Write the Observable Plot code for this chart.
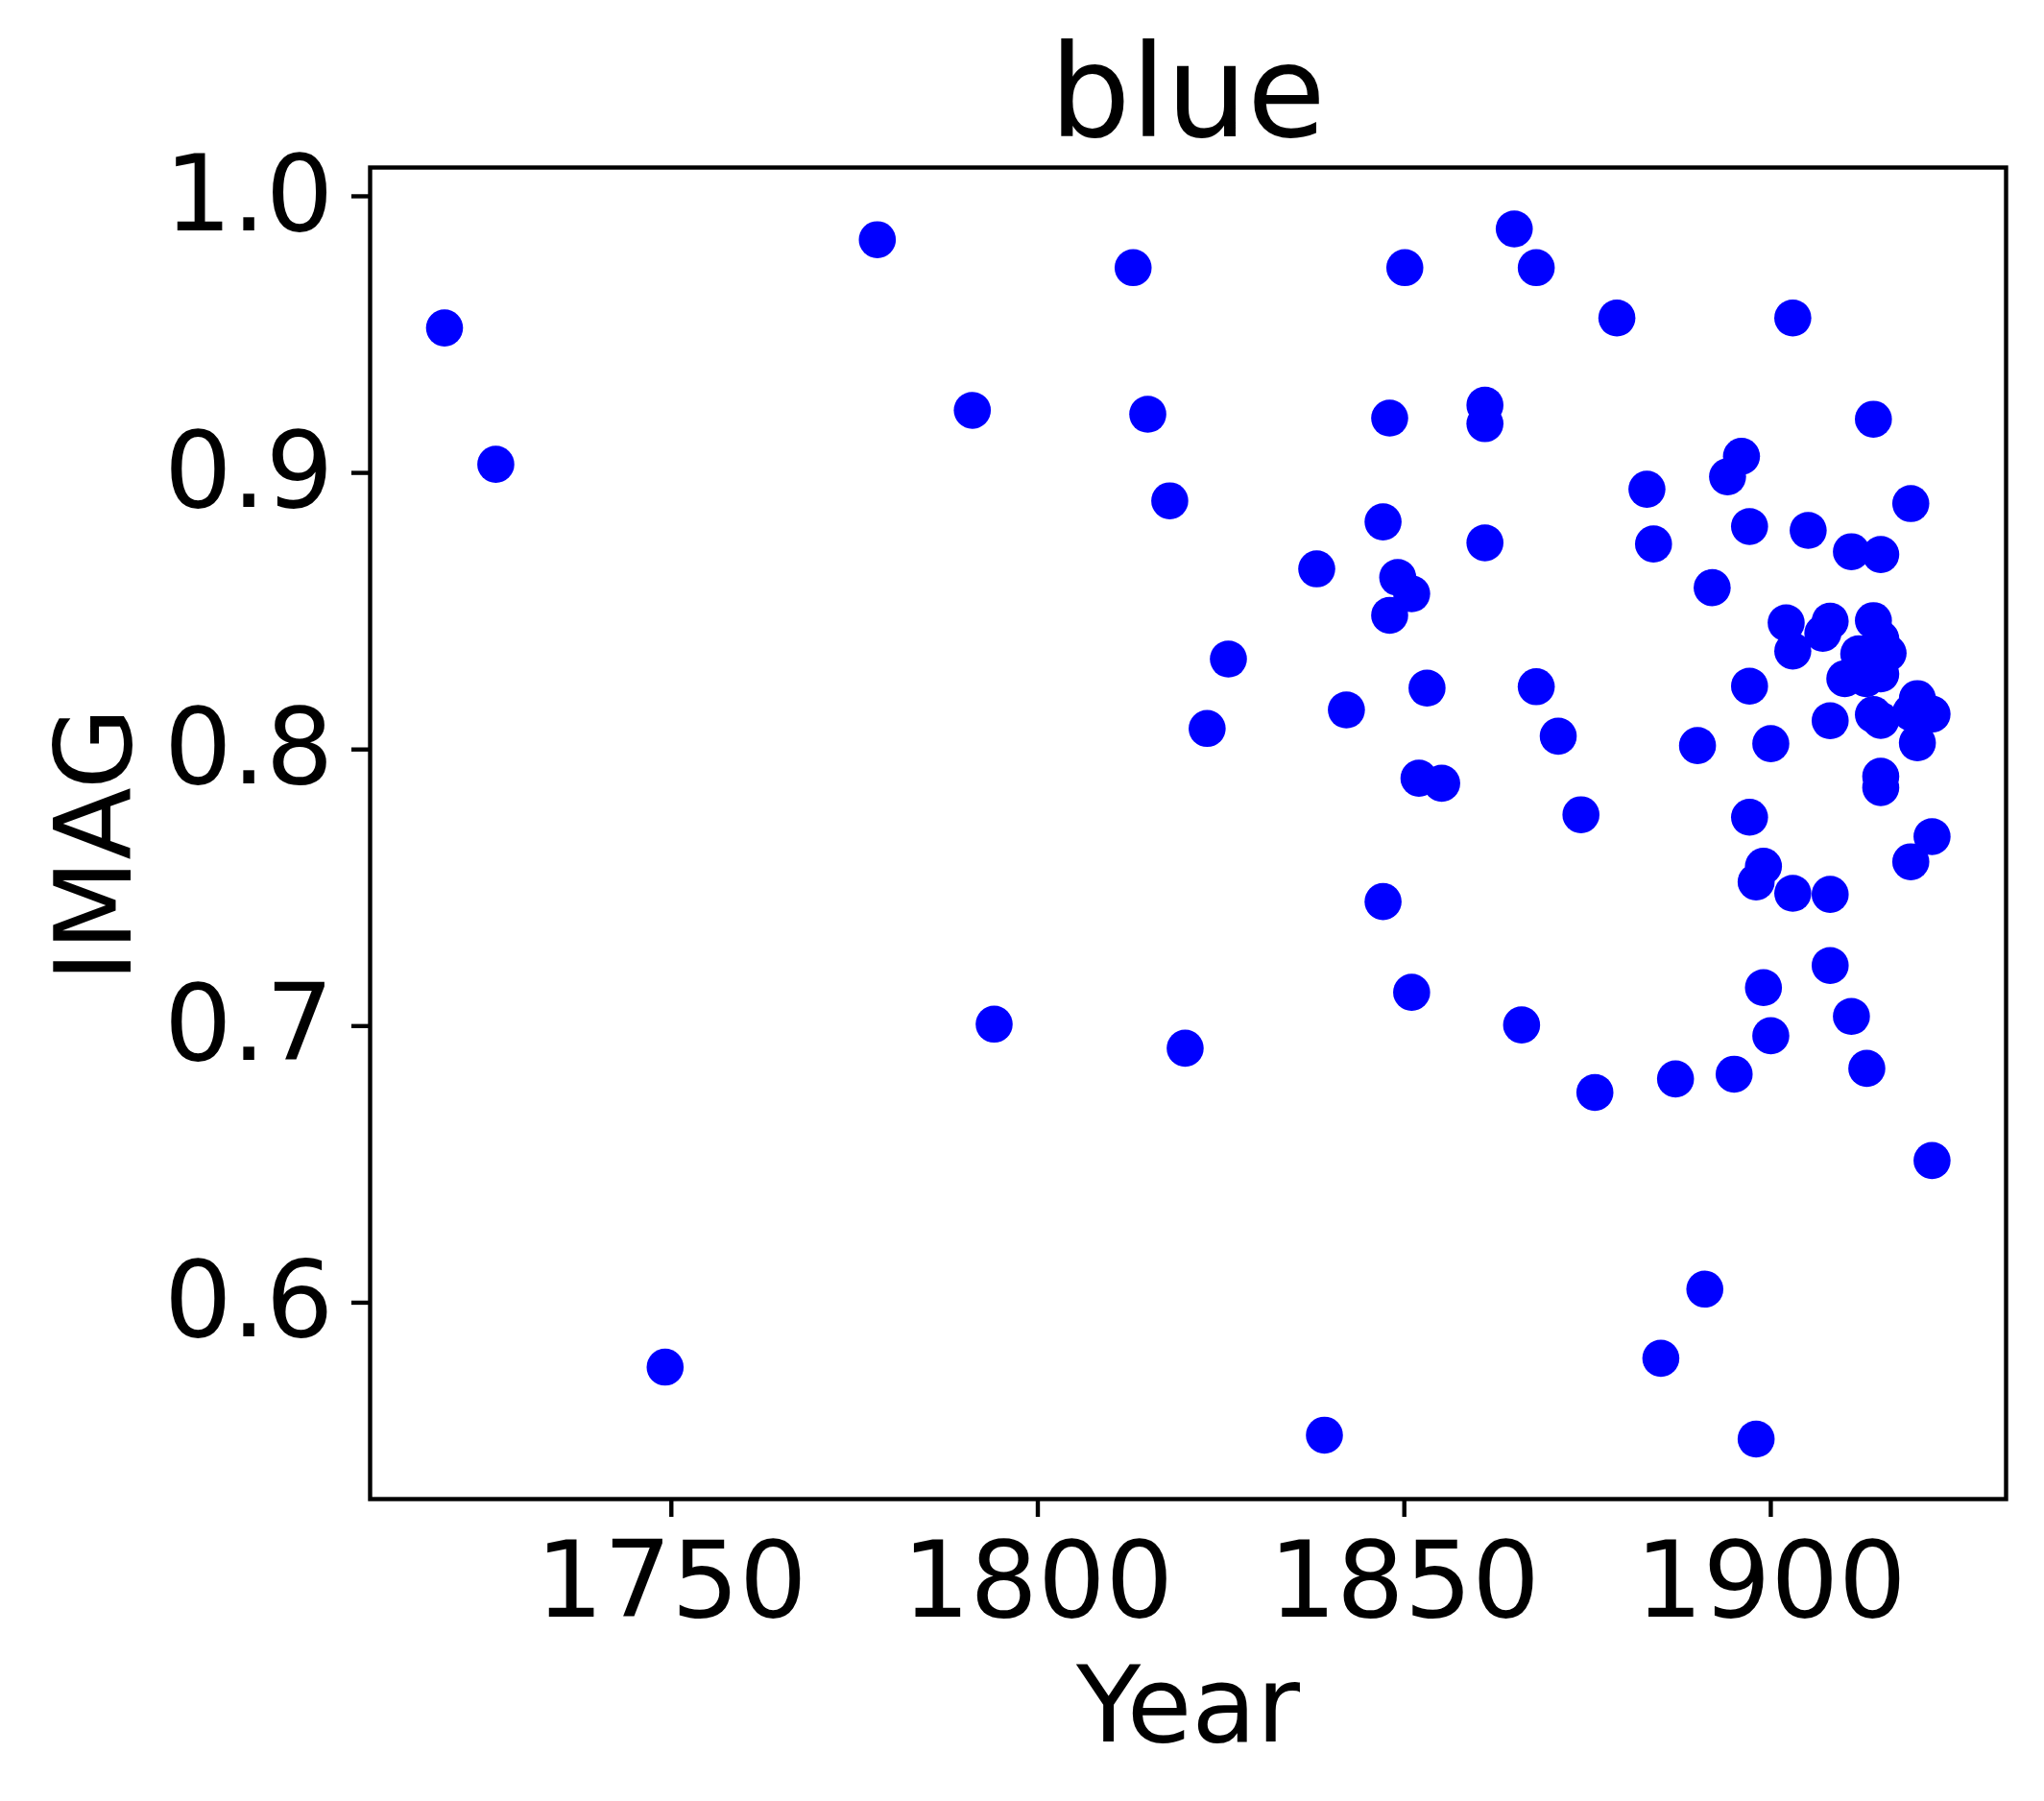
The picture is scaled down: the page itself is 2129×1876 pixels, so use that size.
<!DOCTYPE html>
<html>
<head>
<meta charset="utf-8">
<script src="https://cdn.jsdelivr.net/npm/d3@7"></script>
<script src="https://cdn.jsdelivr.net/npm/@observablehq/plot@0.6"></script>
<style>
  html, body { margin: 0; padding: 0; background: #ffffff; }
  #title {
    font-family: "DejaVu Sans", sans-serif;
    font-size: 133px;
    line-height: 133px;
    height: 120px;
    padding-top: 30px;
    margin-left: 385px;
    width: 1704px;
    text-align: center;
    color: #000;
  }
  #chart svg { display: block; }
</style>
</head>
<body>
<div id="title">blue</div>
<div id="chart"></div>
<script>
// Data
const years = [
  1719.05, 1726.05, 1749.15, 1778.1, 1791.06, 1794.04, 1813.0, 1815.0, 1818.0, 1820.1,
  1823.1, 1826.0, 1838.05, 1839.1, 1842.1, 1847.1, 1847.1, 1848.0, 1848.0, 1849.1,
  1850.07, 1851.0, 1851.0, 1852.0, 1853.1, 1855.1, 1861.0, 1861.0, 1861.0, 1865.0,
  1866.0, 1868.0, 1868.0, 1871.0, 1874.1, 1876.0, 1879.0, 1883.1, 1884.0, 1885.0,
  1887.0, 1890.0, 1891.0, 1892.0, 1894.1, 1895.0, 1896.0, 1897.1, 1897.1, 1897.1,
  1898.0, 1898.0, 1899.0, 1899.0, 1900.0, 1900.0, 1902.1, 1903.0, 1903.0, 1903.0,
  1905.1, 1907.1, 1908.1, 1908.1, 1908.1, 1908.1, 1910.1, 1911.0, 1911.0, 1912.0,
  1913.0, 1913.1, 1914.0, 1914.0, 1914.0, 1915.0, 1915.0, 1915.0, 1915.0, 1915.0,
  1915.0, 1916.0, 1919.1, 1919.1, 1919.1, 1920.0, 1920.0, 1922.0, 1922.0, 1922.0
];
const imag = [
  0.9524, 0.9031, 0.5767, 0.9843, 0.9226, 0.7007, 0.9742, 0.9212, 0.8899, 0.6920,
  0.8076, 0.8327, 0.8653, 0.5521, 0.8143, 0.8823, 0.7450, 0.9198, 0.8485, 0.8622,
  0.9742, 0.8563, 0.7122, 0.7896, 0.8222, 0.7878, 0.9245, 0.9178, 0.8747, 0.9882,
  0.7004, 0.9742, 0.8227, 0.8048, 0.7764, 0.6760, 0.9560, 0.8941, 0.8743, 0.5799,
  0.6809, 0.8014, 0.6049, 0.8585, 0.8986, 0.6826, 0.9060, 0.8806, 0.8229, 0.7755,
  0.7521, 0.5507, 0.7578, 0.7139, 0.8021, 0.6965, 0.8458, 0.8356, 0.9560, 0.7480,
  0.8792, 0.8420, 0.8464, 0.8104, 0.7476, 0.7219, 0.8256, 0.8715, 0.7035, 0.8346,
  0.8256, 0.6847, 0.9194, 0.8466, 0.8126, 0.8705, 0.8400, 0.8273, 0.8105, 0.7903,
  0.7862, 0.8348, 0.8889, 0.7594, 0.8134, 0.8184, 0.8024, 0.8128, 0.7685, 0.6514
];
const xTicks = [1750, 1800, 1850, 1900];
const yTicks = [0.6, 0.7, 0.8, 0.9, 1.0];
const xLabel = ["Year"];
const yLabel = ["IMAG"];

const data = years.map((yr, i) => ({year: yr, imag: imag[i]}));

const chart = Plot.plot({
  width: 2129,
  height: 1726,
  marginTop: 24,
  marginBottom: 315,
  marginLeft: 385,
  marginRight: 40,
  style: {fontFamily: "DejaVu Sans", background: "#ffffff", color: "#000000", overflow: "visible"},
  x: {domain: [1708.9, 1932.1]},
  y: {domain: [0.5290, 1.0104]},
  marks: [
    Plot.dot(data, {x: "year", y: "imag", r: 19.3, fill: "#0000ff"}),
    Plot.frame({stroke: "#000000", strokeWidth: 4.4}),
    Plot.axisX({ticks: xTicks, tickSize: 19, tickPadding: 25, fontSize: 111, strokeWidth: 4.4,
      tickFormat: d => String(d), label: null}),
    Plot.axisY({ticks: yTicks, tickSize: 19, tickPadding: 19, fontSize: 111, strokeWidth: 4.4,
      tickFormat: d => d.toFixed(1), label: null}),
    Plot.text(xLabel, {text: d => d, frameAnchor: "bottom", textAnchor: "middle", lineAnchor: "bottom", dy: 252, fontSize: 110, fill: "#000000"}),
    Plot.text(yLabel, {text: d => d, frameAnchor: "left", textAnchor: "middle", lineAnchor: "bottom", rotate: -90, dx: -250, dy: 12, fontSize: 110, fill: "#000000"})
  ]
});
document.getElementById("chart").appendChild(chart);
</script>
</body>
</html>
